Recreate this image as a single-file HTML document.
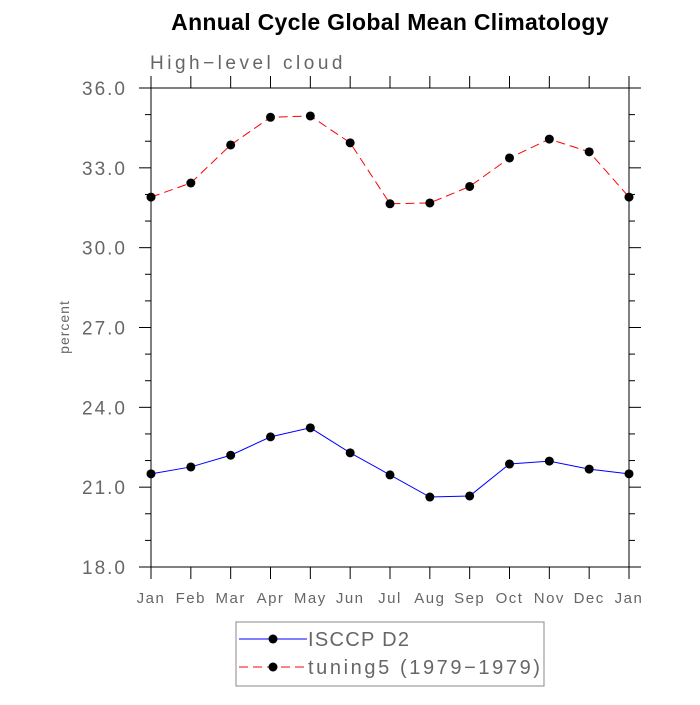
<!DOCTYPE html>
<html><head><meta charset="utf-8"><style>
body{margin:0;background:#fff;}
svg text{font-family:"Liberation Sans",sans-serif;}
</style></head><body>
<svg id="chart" width="700" height="700" xmlns="http://www.w3.org/2000/svg">
<text x="390" y="30" text-anchor="middle" font-size="23" font-weight="bold" letter-spacing="0.3">Annual Cycle Global Mean Climatology</text>
<text x="150" y="69" font-size="19" fill="#666" letter-spacing="3.5">High−level cloud</text>
<text transform="translate(69,327) rotate(-90)" text-anchor="middle" font-size="14" fill="#666" letter-spacing="1">percent</text>
<g id="axes"></g>
<g id="series"></g>
<g>
<rect x="236" y="622" width="308" height="64" fill="none" stroke="#888" stroke-width="1"/>
<line x1="239" y1="639" x2="307" y2="639" stroke="#00f" stroke-width="1"/>
<circle cx="273" cy="639" r="4.5" fill="#000"/>
<text x="308" y="646" font-size="20" fill="#666" letter-spacing="1.3">ISCCP D2</text>
<line x1="239" y1="667" x2="307" y2="667" stroke="#f00" stroke-width="1" stroke-dasharray="9,5"/>
<circle cx="273" cy="667" r="4.5" fill="#000"/>
<text x="308" y="674" font-size="20" fill="#666" letter-spacing="2.6">tuning5 (1979−1979)</text>
</g>
</svg>
<script>
const months = ["Jan","Feb","Mar","Apr","May","Jun","Jul","Aug","Sep","Oct","Nov","Dec","Jan"];
const isccp = [21.5,21.76,22.2,22.89,23.23,22.29,21.46,20.63,20.67,21.87,21.98,21.68,21.5];
const tuning5 = [31.9,32.43,33.86,34.9,34.95,33.94,31.65,31.68,32.3,33.37,34.08,33.6,31.9];
const yTicks = [18,21,24,27,30,33,36];
const yTickLabels = ["18.0","21.0","24.0","27.0","30.0","33.0","36.0"];
const NS="http://www.w3.org/2000/svg";
const L=151,R=629,T=88,B=567,yMin=18,yMax=36;
const xs=i=>L+(R-L)*i/(months.length-1);
const ys=v=>B-(v-yMin)/(yMax-yMin)*(B-T);
function mk(tag,attrs,parent){const e=document.createElementNS(NS,tag);for(const k in attrs)e.setAttribute(k,attrs[k]);parent.appendChild(e);return e;}
const ax=document.getElementById('axes');
const frame=mk('rect',{x:L,y:T,width:R-L,height:B-T,fill:'none',stroke:'#000','stroke-width':1},ax);


months.forEach((m,i)=>{
  const x=xs(i);
  mk('line',{x1:x,y1:B,x2:x,y2:B+12,stroke:'#000'},ax);
  mk('line',{x1:x,y1:T,x2:x,y2:T-12,stroke:'#000'},ax);
  const t=mk('text',{x:x,y:B+36,'text-anchor':'middle','font-size':15,fill:'#666','letter-spacing':1.5},ax);
  t.textContent=m;
  
  
});
for(let v=yMin;v<=yMax;v+=1){
  const y=ys(v);const major=(v-yMin)%3===0;const len=major?12:6;
  mk('line',{x1:L,y1:y,x2:L-len,y2:y,stroke:'#000'},ax);
  mk('line',{x1:R,y1:y,x2:R+len,y2:y,stroke:'#000'},ax);
}
yTicks.forEach((v,i)=>{
  const t=mk('text',{x:L-24,y:ys(v)+7,'text-anchor':'end','font-size':19,fill:'#666','letter-spacing':2},ax);
  t.textContent=yTickLabels[i];
  
  
});
const sg=document.getElementById('series');
function series(vals,color,dash,name){
  const p=mk('polyline',{points:vals.map((v,i)=>xs(i)+','+ys(v)).join(' '),fill:'none',stroke:color,'stroke-width':1,'stroke-dasharray':dash},sg);
  
  
  vals.forEach((v,i)=>{
    const c=mk('circle',{cx:xs(i),cy:ys(v),r:4.5,fill:'#000'},sg);
    
    
  });
}
series(isccp,'#00f','none','isccp');
series(tuning5,'#f00','9,5','tuning5');
</script>
</body></html>
